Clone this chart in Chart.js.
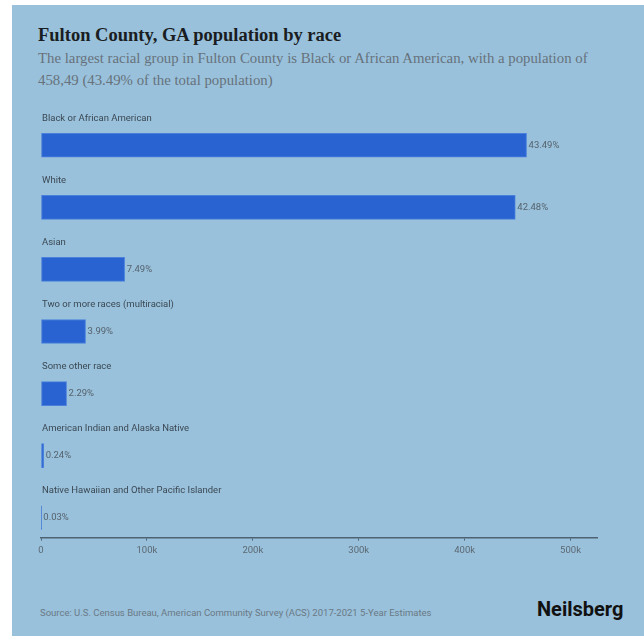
<!DOCTYPE html>
<html>
<head>
<meta charset="utf-8">
<script src="https://cdn.jsdelivr.net/npm/chart.js@4/dist/chart.umd.min.js"></script>
<style>
  html, body { margin: 0; padding: 0; background: #fff; }
  .panel {
    position: absolute; left: 12px; top: 5px; width: 632px; height: 631px;
    background: #99c1db; overflow: hidden;
  }
  .title {
    position: absolute; left: 26px; top: 20px;
    font: bold 18.5px "Liberation Serif", "DejaVu Serif", serif; color: #1a1d21;
  }
  .subtitle {
    position: absolute; left: 26px; top: 42px; width: 600px;
    font: 14.8px/22px "Liberation Serif", "DejaVu Serif", serif; color: #67727c;
  }
  .source {
    position: absolute; left: 28px; top: 602px;
    font: 9.5px Roboto, sans-serif; color: #6a7985;
  }
  .brand {
    position: absolute; left: 525px; top: 592px;
    font: bold 20px Roboto, sans-serif; color: #111;
  }
  .wrap { position: absolute; left: 0; top: 95px; width: 632px; height: 460px; }
</style>
</head>
<body>
<div class="panel">
  <div class="title">Fulton County, GA population by race</div>
  <div class="subtitle">The largest racial group in Fulton County is Black or African American, with a population of<br>458,49 (43.49% of the total population)</div>
  <div class="wrap"><canvas id="myChart" width="632" height="460"></canvas></div>
  <div class="source">Source: U.S. Census Bureau, American Community Survey (ACS) 2017-2021 5-Year Estimates</div>
  <div class="brand">Neilsberg</div>
</div>
<script>
const races = [
  'Black or African American',
  'White',
  'Asian',
  'Two or more races (multiracial)',
  'Some other race',
  'American Indian and Alaska Native',
  'Native Hawaiian and Other Pacific Islander'
];
const population = [458490, 447843, 78963, 42064, 24142, 2530, 316];
const shares = ['43.49%', '42.48%', '7.49%', '3.99%', '2.29%', '0.24%', '0.03%'];
const xTicks = [0, 100000, 200000, 300000, 400000, 500000];

// race name above each bar, share just past its end
const barLabels = {
  id: 'barLabels',
  afterDatasetsDraw(chart) {
    const ctx = chart.ctx;
    const meta = chart.getDatasetMeta(0);
    ctx.save();
    ctx.textBaseline = 'middle';
    ctx.textAlign = 'left';
    ctx.font = '9.5px Roboto, sans-serif';
    meta.data.forEach((bar, i) => {
      ctx.fillStyle = '#3b4853';
      ctx.fillText(races[i], chart.chartArea.left + 1, bar.y - 27);
      ctx.fillStyle = '#55626d';
      ctx.fillText(shares[i], bar.x + 2, bar.y);
    });
    ctx.restore();
  }
};

new Chart(document.getElementById('myChart'), {
  type: 'bar',
  data: {
    datasets: [{
      data: population.map((v, i) => ({ x: v, y: i })),
      backgroundColor: '#2963d1',
      borderColor: '#4a80dc',
      borderWidth: 1,
      borderSkipped: false,
      barThickness: 24
    }]
  },
  options: {
    indexAxis: 'y',
    responsive: false,
    animation: false,
    layout: { padding: { left: 29, right: 47, top: 3 } },
    plugins: { legend: { display: false }, tooltip: { enabled: false } },
    scales: {
      y: {
        type: 'linear', display: false, reverse: true, offset: false,
        min: -0.68, max: 6.32
      },
      x: {
        min: 0, max: 525000,
        afterBuildTicks: axis => { axis.ticks = xTicks.map(v => ({ value: v })); },
        grid: { drawOnChartArea: false, tickLength: 3, color: '#4d6273' },
        border: { color: '#4d6273', width: 1.5 },
        ticks: {
          color: '#5b6873', font: { family: 'Roboto', size: 9.5 }, padding: 4,
          callback: v => v === 0 ? '0' : (v / 1000) + 'k'
        }
      }
    }
  },
  plugins: [barLabels]
});
</script>
</body>
</html>
